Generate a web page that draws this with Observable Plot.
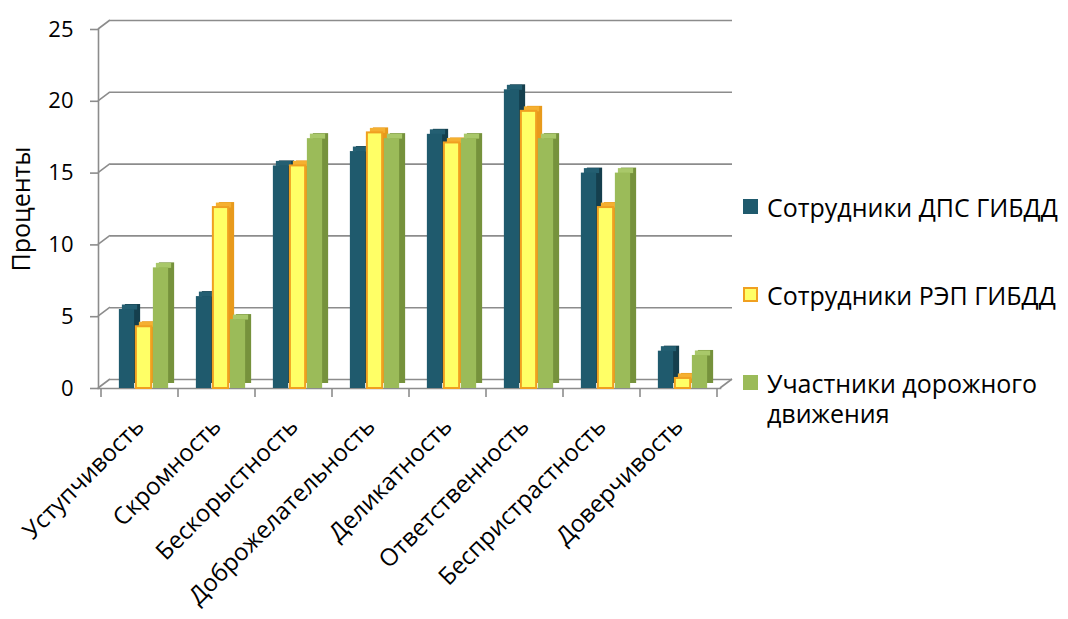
<!DOCTYPE html>
<html>
<head>
<meta charset="utf-8">
<script src="https://cdn.jsdelivr.net/npm/d3@7"></script>
<script src="https://cdn.jsdelivr.net/npm/@observablehq/plot@0.6"></script>
<style>
  body { margin: 0; background: #fff; font-family: "Open Sans", "Noto Sans", sans-serif; }
  #chart { position: relative; width: 1068px; height: 619px; overflow: hidden; }
  #chart svg { position: absolute; left: 0; top: 0; }
  .legend-item { position: absolute; left: 743px; display: flex; align-items: flex-start; }
  .legend-swatch { width: 15px; height: 15px; box-sizing: border-box; margin-top: 7px; flex: none; }
  .legend-label { margin-left: 9px; font-size: 25px; line-height: 30px; color: #000; width: 300px; }
</style>
</head>
<body>
<div id="chart"></div>
<script>
// Personal qualities rated by each respondent group, percent
const categories = [
  "Уступчивость", "Скромность", "Бескорыстность", "Доброжелательность",
  "Деликатность", "Ответственность", "Беспристрастность", "Доверчивость"
];
const seriesNames = ["Сотрудники ДПС ГИБДД", "Сотрудники РЭП ГИБДД", "Участники дорожного движения"];
const dpsValues  = [5.5, 6.4, 15.5, 16.5, 17.7, 20.8, 15.0, 2.6];
const repValues  = [4.3, 12.6, 15.5, 17.8, 17.1, 19.3, 12.6, 0.7];
const roadValues = [8.4, 4.8, 17.4, 17.4, 17.4, 17.4, 15.0, 2.3];
const yTicks = [0, 5, 10, 15, 20, 25];

// Faces of each pseudo-3D column: front, top and right side
const palette = [
  {front: "#1f5a6d", top: "#245f72", side: "#153f4d", stroke: "none"},
  {front: "#ffff66", top: "#f5b030", side: "#e89a1c", stroke: "#f0a020"},
  {front: "#9bbb59", top: "#a9c86a", side: "#76923c", stroke: "none"}
];
const valueLists = [dpsValues, repValues, roadValues];

const rows = valueLists.flatMap((vals, s) =>
  categories.map((c, i) => ({category: c, series: seriesNames[s], value: vals[i]})));

const gridColor = "#8c8c8c";
const depthX = 12, depthY = -9;      // offset of the back wall
const faceX = 6, faceY = -5;         // thickness of each column
const barWidth = 16;
const bandW = (720 - 98) / categories.length;
const inset = (bandW - barWidth) / 2;
const barShift = [-13, 4, 21];       // column centre relative to the category centre

// Side-wall diagonals, right floor edge and category separators
function wallEdges(index, scales, values, dimensions) {
  const {x, y} = scales;
  const left = dimensions.marginLeft;
  const right = dimensions.width - dimensions.marginRight;
  const bw = x.bandwidth ? x.bandwidth() : (right - left) / categories.length;
  const g = d3.create("svg:g")
    .attr("stroke", gridColor).attr("stroke-width", 1.6).attr("fill", "none");
  for (const t of yTicks) {
    g.append("line")
      .attr("x1", left).attr("y1", y(t))
      .attr("x2", left + depthX).attr("y2", y(t) + depthY);
  }
  g.append("line")
    .attr("x1", right).attr("y1", y(0))
    .attr("x2", right + depthX).attr("y2", y(0) + depthY);
  const bounds = categories.map(c => x(c)).concat([x(categories[categories.length - 1]) + bw]);
  for (const b of bounds) {
    g.append("line").attr("x1", b).attr("x2", b).attr("y1", y(0)).attr("y2", y(0) + 9);
  }
  return g.node();
}

const barMarks = seriesNames.flatMap((name, s) => {
  const data = rows.filter(d => d.series === name);
  const col = palette[s];
  const common = {x: "category", insetLeft: inset, insetRight: inset};
  return [
    Plot.barY(data, {...common, y: "value", fill: col.side, dx: barShift[s] + faceX, dy: faceY}),
    Plot.tickY(data, {...common, y: "value", stroke: col.top, strokeWidth: -faceY,
                      dx: barShift[s] + faceX / 2, dy: faceY / 2}),
    Plot.barY(data, {...common, y: "value", fill: col.front, dx: barShift[s],
                     stroke: col.stroke, strokeWidth: col.stroke === "none" ? 0 : 2})
  ];
});

const chart = Plot.plot({
  width: 740,
  height: 619,
  marginLeft: 98,
  marginRight: 20,
  marginTop: 29,
  marginBottom: 231,
  style: {fontFamily: "'Open Sans', 'Noto Sans', sans-serif", background: "transparent", color: "#000"},
  x: {type: "band", domain: categories, padding: 0, axis: null},
  y: {domain: [0, 25], axis: null},
  marks: [
    Plot.ruleY(yTicks, {stroke: gridColor, strokeWidth: 1.6, dx: depthX, dy: depthY}),
    wallEdges,
    Plot.frame({anchor: "left", stroke: gridColor, strokeWidth: 1.6}),
    Plot.frame({anchor: "bottom", stroke: gridColor, strokeWidth: 1.6}),
    ...barMarks,
    Plot.axisY({ticks: yTicks, tickSize: 8, tickPadding: 17, fontSize: 22,
                stroke: gridColor, strokeWidth: 1.6, fill: "#000", label: null}),
    Plot.text(categories, {x: d => d, frameAnchor: "bottom", rotate: -45,
                           textAnchor: "end", lineAnchor: "middle",
                           dx: 0, dy: 34, fontSize: 24, fill: "#000"}),
    Plot.text(["Проценты"], {frameAnchor: "left", rotate: -90, dx: -77,
                             textAnchor: "middle", fontSize: 25, fill: "#000"})
  ]
});

const root = document.getElementById("chart");
root.appendChild(chart);

// Legend to the right of the plot
const legendTops = [192, 280, 368];
seriesNames.forEach((name, s) => {
  const item = document.createElement("div");
  item.className = "legend-item";
  item.style.top = legendTops[s] + "px";
  const sw = document.createElement("div");
  sw.className = "legend-swatch";
  sw.style.background = palette[s].front;
  if (palette[s].stroke !== "none") sw.style.border = "2px solid " + palette[s].stroke;
  const label = document.createElement("div");
  label.className = "legend-label";
  label.textContent = name;
  item.appendChild(sw);
  item.appendChild(label);
  root.appendChild(item);
});
</script>
</body>
</html>
